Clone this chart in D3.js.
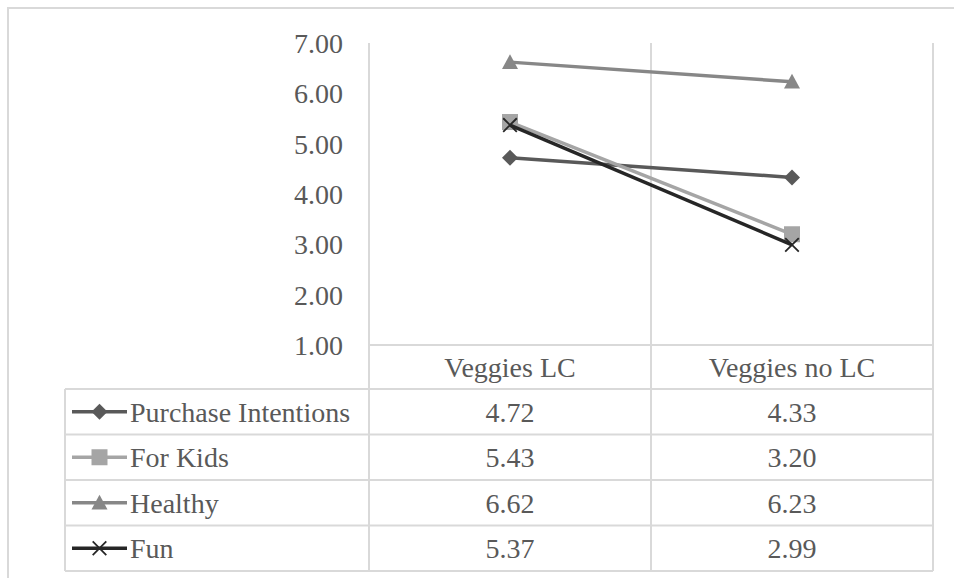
<!DOCTYPE html>
<html><head><meta charset="utf-8"><script src="https://cdn.jsdelivr.net/npm/d3@7"></script></head>
<body style="margin:0">
<svg id="s" width="954" height="578"></svg>
<script>
const categories = ["Veggies LC", "Veggies no LC"];
const seriesNames = ["Purchase Intentions", "For Kids", "Healthy", "Fun"];
const valuesLC = [4.72, 5.43, 6.62, 5.37];
const valuesNoLC = [4.33, 3.20, 6.23, 2.99];
const yTicks = [1, 2, 3, 4, 5, 6, 7];

const seriesColors = ["#595959", "#a5a5a5", "#878787", "#262626"];
const seriesMarkers = ["diamond", "square", "triangle", "cross"];
const series = seriesNames.map((name, i) => ({
  name, color: seriesColors[i], marker: seriesMarkers[i],
  values: [valuesLC[i], valuesNoLC[i]]
}));

const svg = d3.select("#s");
const grid = "#d9d9d9";
const fmt = d3.format(".2f");
const BASE = 10;

function addText(str, x, y, anchor) {
  svg.append("text").attr("x", x).attr("y", y + BASE)
    .attr("text-anchor", anchor || "start")
    .attr("fill", "#595959")
    .attr("font-family", "Times New Roman")
    .style("font-family", "Times New Roman").style("font-size", "28px")
    .text(str);
}

svg.append("rect").attr("x", 8).attr("y", 8).attr("width", 980).attr("height", 600)
  .attr("fill", "none").attr("stroke", grid).attr("stroke-width", 2);

const plotLeft = 369, plotRight = 933, plotTop = 43, plotBottom = 345;
const x = d3.scaleBand().domain(categories).range([plotLeft, plotRight]);
const y = d3.scaleLinear().domain([1, 7]).range([plotBottom, plotTop]);
const cx = c => x(c) + x.bandwidth() / 2;

const tableLeft = 65, headerBottom = 389, rowH = 45.5;
const tableBottom = headerBottom + rowH * series.length;

const vx = [plotLeft].concat(categories.map(c => x(c) + x.bandwidth()));
svg.append("g").selectAll("line").data(vx).join("line")
  .attr("x1", d => d).attr("x2", d => d).attr("y1", plotTop).attr("y2", tableBottom)
  .attr("stroke", grid).attr("stroke-width", 2);
svg.append("line").attr("x1", tableLeft).attr("x2", tableLeft)
  .attr("y1", headerBottom).attr("y2", tableBottom).attr("stroke", grid).attr("stroke-width", 2);
svg.append("line").attr("x1", plotLeft).attr("x2", plotRight)
  .attr("y1", plotBottom).attr("y2", plotBottom).attr("stroke", grid).attr("stroke-width", 2);
const hy = d3.range(series.length + 1).map(i => headerBottom + i * rowH);
svg.append("g").selectAll("line").data(hy).join("line")
  .attr("x1", tableLeft).attr("x2", plotRight).attr("y1", d => d).attr("y2", d => d)
  .attr("stroke", grid).attr("stroke-width", 2);

const yAxis = d3.axisLeft(y).tickValues(yTicks).tickSize(0).tickFormat(fmt);
const gy = svg.append("g").attr("transform", "translate(343,0)").call(yAxis);
gy.select(".domain").remove();
gy.selectAll("text").remove();
yTicks.forEach(t => addText(fmt(t), 343, y(t), "end"));

categories.forEach(c => addText(c, cx(c), (plotBottom + headerBottom) / 2, "middle"));

function drawMarker(g, type, color, px, py, s) {
  const h = s / 2;
  if (type === "diamond") {
    g.append("path").attr("d", `M${px},${py - h}L${px + h},${py}L${px},${py + h}L${px - h},${py}Z`).attr("fill", color);
  } else if (type === "square") {
    g.append("rect").attr("x", px - h).attr("y", py - h).attr("width", s).attr("height", s).attr("fill", color);
  } else if (type === "triangle") {
    g.append("path").attr("d", `M${px},${py - h}L${px + h},${py + h * 0.85}L${px - h},${py + h * 0.85}Z`).attr("fill", color);
  } else {
    const c = h * 0.85;
    g.append("path").attr("d", `M${px - c},${py - c}L${px + c},${py + c}M${px + c},${py - c}L${px - c},${py + c}`)
      .attr("stroke", color).attr("stroke-width", 1.8).attr("fill", "none");
  }
}

const line = d3.line().x((d, i) => cx(categories[i])).y(d => y(d));
series.forEach(s => {
  const g = svg.append("g");
  g.append("path").attr("d", line(s.values)).attr("fill", "none")
    .attr("stroke", s.color).attr("stroke-width", 3.5).attr("stroke-linejoin", "round");
  s.values.forEach((v, i) => drawMarker(g, s.marker, s.color, cx(categories[i]), y(v), 16));
});

series.forEach((s, r) => {
  const rowY = headerBottom + r * rowH + rowH / 2;
  const g = svg.append("g");
  g.append("line").attr("x1", 72).attr("x2", 127).attr("y1", rowY).attr("y2", rowY)
    .attr("stroke", s.color).attr("stroke-width", 3.5);
  drawMarker(g, s.marker, s.color, 99.5, rowY, 16);
  addText(s.name, 130, rowY, "start");
  s.values.forEach((v, i) => addText(fmt(v), cx(categories[i]), rowY, "middle"));
});
</script></body></html>
